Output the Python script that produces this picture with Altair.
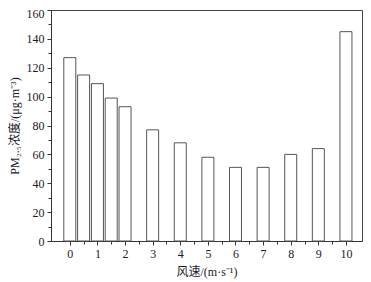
import altair as alt
import pandas as pd

wind_speed = [0, 0.5, 1, 1.5, 2, 3, 4, 5, 6, 7, 8, 9, 10]
pm25 = [127, 115, 109, 99, 93, 77, 68, 58, 51, 51, 60, 64, 145]
y_ticks = list(range(0, 161, 10))
x_ticks = [i / 2 for i in range(0, 21)]

df = pd.DataFrame({"wind": wind_speed, "pm": pm25})

serif = "Liberation Serif"
cjk = "Liberation Serif, Noto Sans CJK SC"

chart = alt.Chart(df).mark_bar(
    size=12, fill="white", stroke="#555", strokeWidth=1
).encode(
    x=alt.X("wind:Q",
            scale=alt.Scale(domain=[-0.5, 10.4], nice=False, zero=False),
            axis=alt.Axis(values=x_ticks, title="风速/(m·s⁻¹)", format=".0f",
                          labelExpr="datum.value % 1 === 0 ? datum.label : ''",
                          tickSize=alt.expr("datum.value % 1 === 0 ? 4 : 3"),
                          grid=False, labelPadding=3, titlePadding=7)),
    y=alt.Y("pm:Q",
            scale=alt.Scale(domain=[0, 160], nice=False),
            axis=alt.Axis(values=y_ticks, title="PM₂.₅浓度/(μg·m⁻³)",
                          labelExpr="datum.value % 20 === 0 ? datum.label : ''",
                          labelOffset=alt.expr("datum.value === 160 ? 3 : 0"),
                          tickSize=alt.expr("datum.value % 20 === 0 ? 4 : 3"),
                          grid=False, labelPadding=3, titlePadding=5)),
).properties(
    width=311, height=231,
    autosize=alt.AutoSizeParams(type="none"),
    padding={"left": 43, "top": 2, "right": 1, "bottom": 40},
).configure_view(
    stroke="#444", strokeWidth=1
).configure_axis(
    domainColor="#333", tickColor="#333", labelColor="#1a1a2a", titleColor="#1a1a2a",
    labelFont=serif, titleFont=cjk, labelFontSize=12, titleFontSize=12,
    titleFontWeight="normal", labelFlush=False, labelOverlap=False
)

chart.save("out.html", embed_options={"renderer": "svg", "actions": False})
